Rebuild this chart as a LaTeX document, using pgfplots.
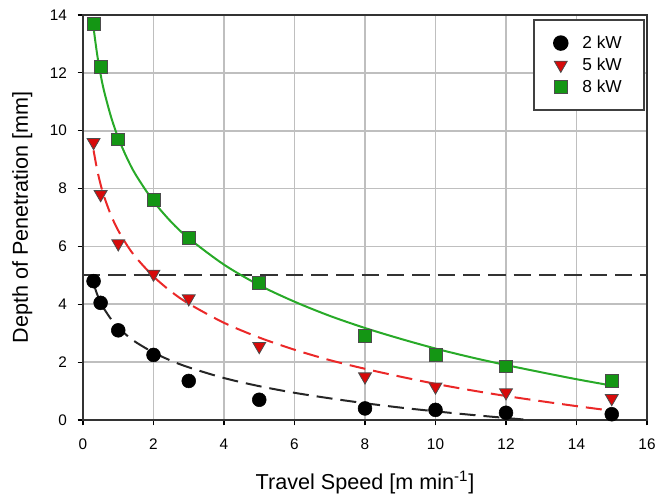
\documentclass[border=0pt]{standalone}
\usepackage{pgfplots}
\pgfplotsset{compat=1.18}
\usepackage{fontspec}
\setmainfont{Liberation Sans}
\definecolor{mygreen}{RGB}{20,150,20}
\definecolor{linegreen}{RGB}{40,170,40}
\definecolor{myred}{RGB}{215,10,10}
\definecolor{linered}{RGB}{235,40,40}
\begin{document}
\begin{tikzpicture}
\useasboundingbox (-62.25pt,-60pt) rectangle (429.75pt,315pt);
\begin{axis}[
  scale only axis, width=423pt, height=303.75pt,
  xmin=0, xmax=16, ymin=0, ymax=14,
  xtick={0,2,...,16}, ytick={0,2,...,14},
  grid=major, grid style={black!25, line width=1.2pt},
  tick align=outside, tick pos=left, major tick length=4pt,
  tick style={black, line width=0.8pt},
  axis line style={black!80, line width=1.1pt},
  ticklabel style={font=\fontsize{11.5}{13}\selectfont},
  xticklabel style={yshift=-6.5pt},
  yticklabel style={xshift=-4.5pt},
  /pgf/number format/assume math mode=true,
  xlabel={Travel Speed [m min\textsuperscript{-1}]},
  ylabel={Depth of Penetration [mm]},
  label style={font=\fontsize{16.2}{18}\selectfont},
  xlabel style={at={(axis description cs:0.5,0)}, anchor=center, yshift=-47pt},
  ylabel style={at={(axis description cs:-0.1076,0.5)}, anchor=center},
  legend style={at={(rel axis cs:1,1)}, anchor=north east, xshift=-1.5pt, yshift=-3pt,
    draw=black!75, line width=1.2pt, font=\fontsize{13}{15}\selectfont,
    inner xsep=14.75pt, inner ysep=10pt, row sep=1.5pt, column sep=9pt},
  legend cell align=left,
  clip=true,
]
% horizontal reference line
\addplot[forget plot, black!80, line width=1.5pt, dash pattern=on 13pt off 6pt] coordinates {(0,5) (16,5)};
% trend lines
\addplot[forget plot, black!85, line width=1.5pt, dash pattern=on 12pt off 6pt, smooth] coordinates {
(0.3,4.72) (0.4,4.35) (0.5,4.07) (0.6,3.84) (0.8,3.48) (1,3.20) (1.25,2.92) (1.5,2.69) (2,2.33) (2.5,2.05) (3,1.82) (4,1.45) (5,1.17) (6,0.94) (7,0.75) (8,0.58) (9,0.43) (10,0.30) (11,0.18) (12,0.07) (12.66,0.0)};
\addplot[forget plot, linered, line width=1.5pt, dash pattern=on 12pt off 6pt, smooth] coordinates {
(0.3,9.32) (0.4,8.66) (0.5,8.14) (0.6,7.72) (0.8,7.06) (1,6.55) (1.25,6.04) (1.5,5.62) (2,4.96) (2.5,4.44) (3,4.02) (4,3.36) (5,2.85) (6,2.43) (7,2.07) (8,1.77) (9,1.50) (10,1.25) (11,1.03) (12,0.83) (13,0.65) (14,0.48) (15,0.32)};
\addplot[forget plot, linegreen, line width=1.5pt, smooth] coordinates {
(0.3,13.55) (0.4,12.65) (0.5,11.94) (0.6,11.36) (0.8,10.46) (1,9.75) (1.25,9.05) (1.5,8.47) (2,7.56) (2.5,6.85) (3,6.28) (4,5.37) (5,4.66) (6,4.09) (7,3.60) (8,3.18) (9,2.81) (10,2.47) (11,2.17) (12,1.90) (13,1.65) (14,1.41) (15,1.19)};
% data points
\addplot[only marks, mark=*, mark size=5.2pt, mark options={fill=black, draw=black}] coordinates {
(0.3,4.8) (0.5,4.05) (1,3.1) (2,2.25) (3,1.35) (5,0.7) (8,0.4) (10,0.35) (12,0.25) (15,0.2)};
\addlegendentry{2 kW}
\addplot[only marks, mark=triangle*, mark size=5.6pt, mark options={rotate=180, fill=myred, draw=black!70, line width=0.6pt}] coordinates {
(0.3,9.6) (0.5,7.8) (1,6.1) (2,5.05) (3,4.2) (5,2.55) (8,1.5) (10,1.15) (12,0.95) (15,0.75)};
\addlegendentry{5 kW}
\addplot[only marks, mark=square*, mark size=4.8pt, mark options={fill=mygreen, draw=black!70, line width=0.6pt}] coordinates {
(0.3,13.7) (0.5,12.2) (1,9.7) (2,7.6) (3,6.3) (5,4.75) (8,2.9) (10,2.25) (12,1.85) (15,1.35)};
\addlegendentry{8 kW}
\end{axis}
\end{tikzpicture}
\end{document}
